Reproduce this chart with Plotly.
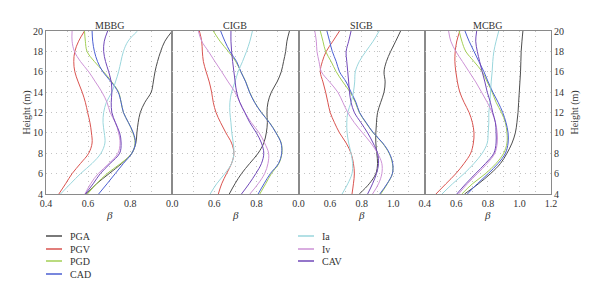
import plotly.graph_objects as go
from plotly.subplots import make_subplots

heights = [4, 5, 6, 7, 8, 9, 10, 11, 12, 13, 14, 15, 16, 17, 18, 19, 20]
panels = ["MBBG", "CIGB", "SIGB", "MCBG"]
series_names = ["PGA", "PGV", "PGD", "CAD", "Ia", "Iv", "CAV"]

# beta values, heights 4..20 m, one list per measure per panel
mbbg_pga = [0.592, 0.64, 0.70, 0.76, 0.808, 0.827, 0.832, 0.838, 0.848, 0.87, 0.9, 0.91, 0.918, 0.93, 0.945, 0.965, 1.0]
mbbg_pgv = [0.461, 0.493, 0.524, 0.564, 0.603, 0.619, 0.616, 0.609, 0.598, 0.587, 0.572, 0.553, 0.537, 0.532, 0.537, 0.555, 0.583]
mbbg_pgd = [0.597, 0.64, 0.69, 0.755, 0.808, 0.823, 0.813, 0.792, 0.768, 0.757, 0.745, 0.713, 0.674, 0.63, 0.595, 0.587, 0.583]
mbbg_cad = [0.65, 0.69, 0.729, 0.768, 0.808, 0.825, 0.815, 0.792, 0.768, 0.757, 0.743, 0.71, 0.67, 0.645, 0.63, 0.622, 0.619]
mbbg_ia = [0.469, 0.516, 0.564, 0.619, 0.661, 0.68, 0.677, 0.671, 0.674, 0.687, 0.713, 0.73, 0.745, 0.756, 0.768, 0.79, 0.835]
mbbg_iv = [0.585, 0.612, 0.648, 0.70, 0.742, 0.752, 0.745, 0.73, 0.705, 0.69, 0.666, 0.635, 0.603, 0.564, 0.535, 0.524, 0.524]
mbbg_cav = [0.587, 0.624, 0.658, 0.705, 0.75, 0.757, 0.75, 0.73, 0.713, 0.71, 0.713, 0.71, 0.698, 0.683, 0.674, 0.677, 0.693]

cigb_pga = [0.671, 0.698, 0.729, 0.768, 0.808, 0.835, 0.847, 0.852, 0.85, 0.855, 0.871, 0.898, 0.918, 0.929, 0.939, 0.945, 0.957]
cigb_pgv = [0.619, 0.635, 0.658, 0.682, 0.693, 0.682, 0.655, 0.63, 0.608, 0.595, 0.587, 0.576, 0.561, 0.548, 0.543, 0.54, 0.529]
cigb_pgd = [0.816, 0.844, 0.871, 0.907, 0.921, 0.918, 0.894, 0.863, 0.824, 0.792, 0.768, 0.75, 0.726, 0.702, 0.666, 0.627, 0.595]
cigb_cad = [0.808, 0.836, 0.866, 0.905, 0.92, 0.917, 0.893, 0.862, 0.823, 0.791, 0.767, 0.749, 0.726, 0.706, 0.674, 0.65, 0.63]
cigb_ia = [0.58, 0.611, 0.65, 0.682, 0.693, 0.69, 0.683, 0.679, 0.674, 0.674, 0.682, 0.698, 0.713, 0.734, 0.753, 0.769, 0.781]
cigb_iv = [0.769, 0.808, 0.839, 0.855, 0.858, 0.839, 0.813, 0.776, 0.745, 0.721, 0.698, 0.666, 0.635, 0.603, 0.572, 0.54, 0.524]
cigb_cav = [0.729, 0.765, 0.797, 0.824, 0.835, 0.824, 0.8, 0.769, 0.745, 0.721, 0.706, 0.699, 0.693, 0.687, 0.682, 0.679, 0.679]

sigb_pga = [0.785, 0.848, 0.89, 0.901, 0.896, 0.89, 0.89, 0.894, 0.901, 0.921, 0.942, 0.949, 0.942, 0.957, 0.984, 1.016, 1.047]
sigb_pgv = [0.739, 0.748, 0.754, 0.748, 0.733, 0.702, 0.66, 0.628, 0.601, 0.586, 0.572, 0.555, 0.538, 0.551, 0.576, 0.618, 0.66]
sigb_pgd = [0.921, 0.963, 0.995, 0.995, 0.974, 0.932, 0.873, 0.827, 0.785, 0.76, 0.727, 0.681, 0.639, 0.607, 0.572, 0.555, 0.538]
sigb_cad = [0.915, 0.961, 0.995, 0.997, 0.976, 0.934, 0.875, 0.829, 0.787, 0.764, 0.733, 0.702, 0.66, 0.639, 0.614, 0.597, 0.58]
sigb_ia = [0.676, 0.712, 0.739, 0.743, 0.733, 0.718, 0.708, 0.706, 0.712, 0.733, 0.748, 0.756, 0.76, 0.785, 0.827, 0.873, 0.911]
sigb_iv = [0.869, 0.907, 0.928, 0.928, 0.901, 0.859, 0.806, 0.754, 0.712, 0.681, 0.649, 0.597, 0.545, 0.53, 0.517, 0.513, 0.503]
sigb_cav = [0.838, 0.869, 0.894, 0.907, 0.901, 0.873, 0.838, 0.796, 0.754, 0.733, 0.723, 0.718, 0.712, 0.706, 0.702, 0.718, 0.733]

mcbg_pga = [0.652, 0.74, 0.817, 0.88, 0.921, 0.953, 0.974, 0.984, 0.991, 0.995, 0.999, 1.003, 1.007, 1.009, 1.011, 1.016, 1.022]
mcbg_pgv = [0.471, 0.534, 0.597, 0.649, 0.691, 0.708, 0.712, 0.702, 0.681, 0.649, 0.622, 0.607, 0.597, 0.591, 0.593, 0.603, 0.622]
mcbg_pgd = [0.635, 0.702, 0.785, 0.852, 0.9, 0.921, 0.921, 0.911, 0.886, 0.852, 0.827, 0.796, 0.764, 0.712, 0.66, 0.635, 0.618]
mcbg_cad = [0.67, 0.733, 0.802, 0.865, 0.911, 0.928, 0.928, 0.915, 0.894, 0.865, 0.831, 0.802, 0.775, 0.743, 0.712, 0.681, 0.655]
mcbg_ia = [0.509, 0.576, 0.649, 0.712, 0.764, 0.796, 0.802, 0.806, 0.806, 0.813, 0.817, 0.821, 0.827, 0.831, 0.838, 0.852, 0.869]
mcbg_iv = [0.614, 0.67, 0.733, 0.796, 0.844, 0.859, 0.859, 0.848, 0.827, 0.796, 0.76, 0.723, 0.681, 0.639, 0.597, 0.565, 0.551]
mcbg_cav = [0.603, 0.66, 0.722, 0.785, 0.838, 0.852, 0.852, 0.848, 0.831, 0.816, 0.796, 0.781, 0.764, 0.748, 0.733, 0.723, 0.729]

panel_data = [
    [mbbg_pga, mbbg_pgv, mbbg_pgd, mbbg_cad, mbbg_ia, mbbg_iv, mbbg_cav],
    [cigb_pga, cigb_pgv, cigb_pgd, cigb_cad, cigb_ia, cigb_iv, cigb_cav],
    [sigb_pga, sigb_pgv, sigb_pgd, sigb_cad, sigb_ia, sigb_iv, sigb_cav],
    [mcbg_pga, mcbg_pgv, mcbg_pgd, mcbg_cad, mcbg_ia, mcbg_iv, mcbg_cav],
]

x_ranges = [[0.4, 1.0], [0.4, 1.0], [0.4, 1.2], [0.4, 1.2]]
x_tickvals = [
    [0.4, 0.5, 0.6, 0.7, 0.8, 0.9, 1.0],
    [0.4, 0.5, 0.6, 0.7, 0.8, 0.9, 1.0],
    [0.4, 0.5, 0.6, 0.7, 0.8, 0.9, 1.0, 1.1, 1.2],
    [0.4, 0.5, 0.6, 0.7, 0.8, 0.9, 1.0, 1.1, 1.2],
]
x_ticktext = [
    ["0.4", "", "0.6", "", "0.8", "", "0.0"],
    ["", "", "0.6", "", "0.8", "", "0.0"],
    ["", "", "0.6", "", "0.8", "", "1.0", "", ""],
    ["0.4", "", "0.6", "", "0.8", "", "1.0", "", "1.2"],
]
y_tickvals = [4, 6, 8, 10, 12, 14, 16, 18, 20]

colors = ["#4d4d4d", "#d9534f", "#a3cf55", "#4b5fd2", "#9ad6dc", "#cd92d6", "#7048b8"]
FONT = "Liberation Serif"

fig = make_subplots(rows=1, cols=4, horizontal_spacing=0)

for p, data in enumerate(panel_data):
    for s, vals in enumerate(data):
        fig.add_trace(
            go.Scatter(
                x=vals, y=heights, mode="lines", name=series_names[s],
                line=dict(color=colors[s], width=1, shape="spline", smoothing=1.0),
                showlegend=False,
            ),
            row=1, col=p + 1,
        )

axis_line = "#8a8a8a"
grid_col = "#c4c4c4"
for p in range(4):
    fig.update_xaxes(
        range=x_ranges[p], tickvals=x_tickvals[p], ticktext=x_ticktext[p],
        showgrid=True, gridcolor=grid_col, griddash="1px,4px", gridwidth=1,
        showline=True, linecolor=axis_line, linewidth=1, mirror=True,
        zeroline=False, ticks="", tickfont=dict(family=FONT, size=10, color="#333"),
        automargin=False,
        row=1, col=p + 1,
    )
    fig.update_yaxes(
        range=[4, 20], tickvals=y_tickvals,
        showticklabels=(p in (0, 3)),
        side=("right" if p == 3 else "left"),
        showgrid=True, gridcolor=grid_col, griddash="1px,4px", gridwidth=1,
        showline=True, linecolor=axis_line, linewidth=1, mirror=True,
        zeroline=False, ticks="", tickfont=dict(family=FONT, size=10, color="#333"),
        automargin=False,
        row=1, col=p + 1,
    )

# page offset: the html body adds an 8 px margin around the figure
OFF = 8
W, H = 600 - OFF, 298 - OFF
# plot area in screen pixels
SL, SR, ST, SB = 46, 551, 31, 194
PL, PR, PT, PB = SL - OFF, SR - OFF, ST - OFF, SB - OFF

def px_x(sx):
    return (sx - SL) / (SR - SL)

def px_y(sy):
    return (SB - sy) / (SB - ST)

annotations = []
shapes = []
for p, name in enumerate(panels):
    cx = (p + 0.5) / 4
    annotations.append(dict(x=cx, y=px_y(25), xref="paper", yref="paper", text=name,
                            showarrow=False, xanchor="center", yanchor="middle",
                            font=dict(family=FONT, size=10, color="#333")))
    annotations.append(dict(x=cx, y=px_y(215), xref="paper", yref="paper", text="<i>β</i>",
                            showarrow=False, xanchor="center", yanchor="middle",
                            font=dict(family=FONT, size=11, color="#333")))
annotations.append(dict(x=px_x(26), y=0.5, xref="paper", yref="paper", text="Height (m)",
                        textangle=-90, showarrow=False, xanchor="center", yanchor="middle",
                        font=dict(family=FONT, size=10, color="#333")))
annotations.append(dict(x=px_x(574), y=0.5, xref="paper", yref="paper", text="Height (m)",
                        textangle=-90, showarrow=False, xanchor="center", yanchor="middle",
                        font=dict(family=FONT, size=10, color="#333")))

# legend: two columns (4 + 3 entries)
legend_cols = [(46, [0, 1, 2, 3]), (298, [4, 5, 6])]
row_y = [236, 249, 261, 274]
for x0, idxs in legend_cols:
    for r, s in enumerate(idxs):
        yy = px_y(row_y[r])
        shapes.append(dict(type="line", xref="paper", yref="paper",
                           x0=px_x(x0), x1=px_x(x0 + 16), y0=yy, y1=yy,
                           line=dict(color=colors[s], width=1.5)))
        annotations.append(dict(x=px_x(x0 + 22), y=yy, xref="paper", yref="paper",
                                text=series_names[s], showarrow=False,
                                xanchor="left", yanchor="middle",
                                font=dict(family=FONT, size=10, color="#333")))

fig.update_layout(
    width=W, height=H,
    margin=dict(l=PL, r=W - PR, t=PT, b=H - PB, autoexpand=False),
    paper_bgcolor="white", plot_bgcolor="white",
    annotations=annotations, shapes=shapes,
    showlegend=False,
)

fig.write_html("out.html")
